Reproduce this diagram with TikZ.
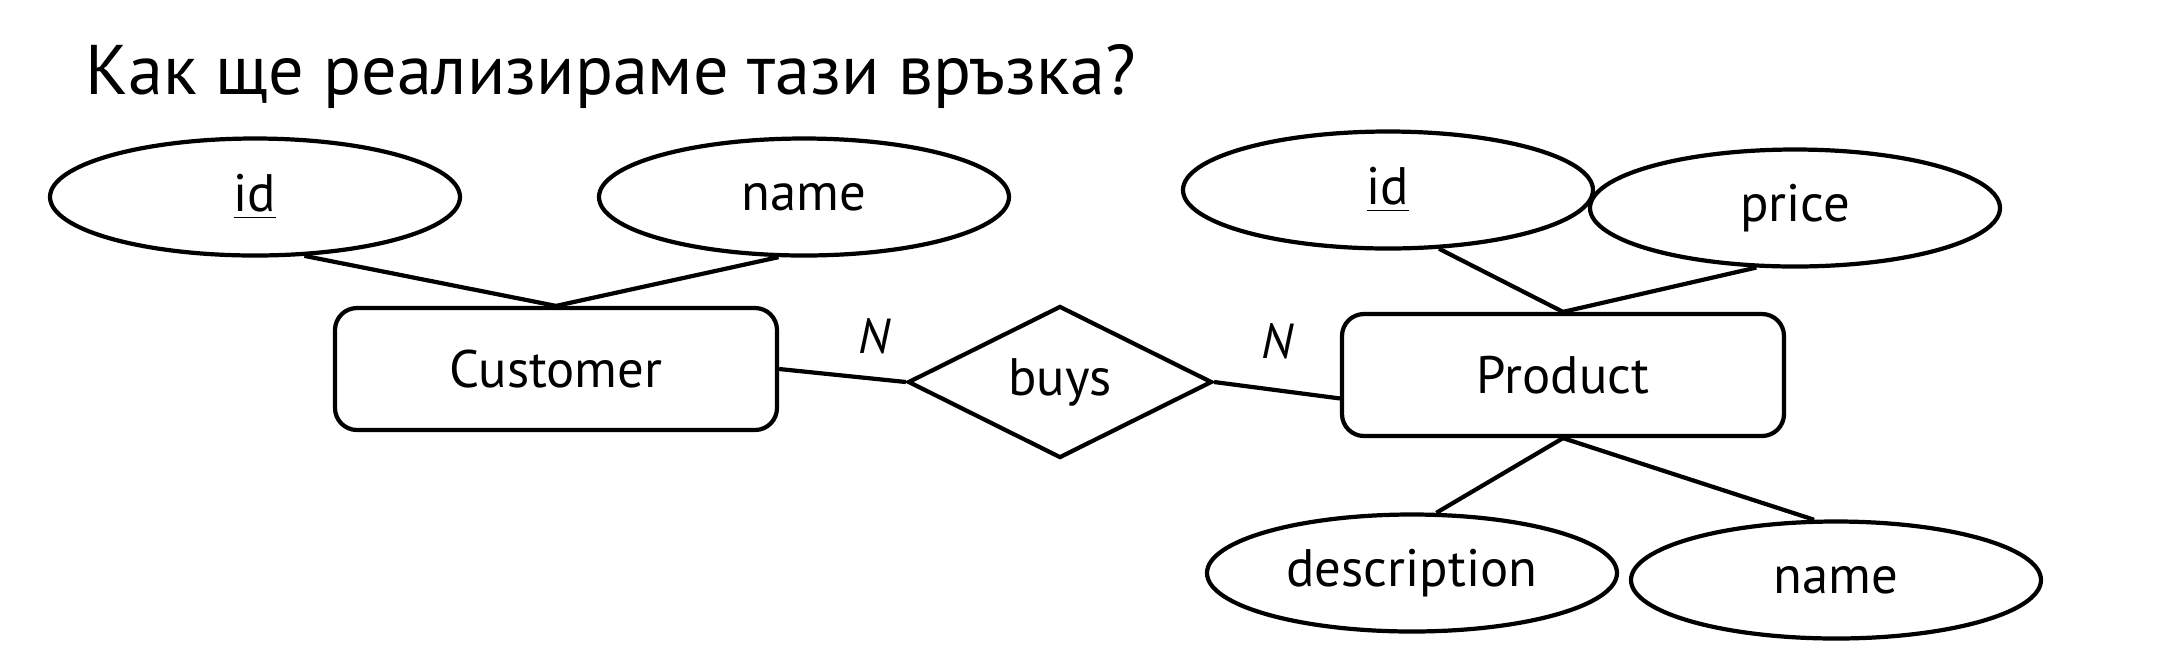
\documentclass[tikz,border=0pt]{standalone}
\usepackage{fontspec}
\setmainfont{PT Sans}
\usetikzlibrary{shapes.geometric, positioning}
\newcommand{\key}[1]{\underline{#1}}

\begin{document}
\begin{tikzpicture}[font=\fontsize{15}{18}\selectfont, line width=1.2pt,
  attr/.style={draw, ellipse, minimum width=4.1cm, minimum height=1.17cm, inner sep=0pt},
  entity/.style={draw, rounded corners=0.22cm, minimum width=4.42cm, minimum height=1.22cm},
  rel/.style={draw, diamond, aspect=2, minimum width=3.04cm, minimum height=1.52cm, inner sep=0pt},
  card/.style={font=\fontsize{14}{16}\selectfont\itshape}]
  \useasboundingbox (0,0) rectangle (21.64,-6.63);

  \node[anchor=base west, font=\fontsize{20}{24}\selectfont]
    (title) at (0.72,-0.94) {Как ще реализираме тази връзка?};

  % customer side
  \node[entity] (cust) at (5.56,-3.69) {Customer};
  \node[attr] (cid) at (2.55,-1.97) {\key{id}};
  \node[attr] (cname) at (8.04,-1.97) {name};

  % relationship
  \node[rel] (buys) at (10.60,-3.82) {buys};

  % product side
  \node[entity] (prod) at (15.63,-3.75) {Product};
  \node[attr] (pid) at (13.88,-1.90) {\key{id}};
  \node[attr] (price) at (17.95,-2.08) {price};
  \node[attr] (desc) at (14.12,-5.73) {description};
  \node[attr] (pname) at (18.36,-5.80) {name};

  \draw (cid.-50) -- (cust.north);
  \draw (cname.-113) -- (cust.north);
  \draw (cust.east) -- node[card, pos=.75, above=3pt]{N} (buys.west);
  \draw (buys.east) -- node[card, pos=.5, above=5pt]{N} (prod.-174);
  \draw (pid.-49) -- (prod.north);
  \draw (price.-123) -- (prod.north);
  \draw (prod.south) -- (desc.68);
  \draw (prod.south) -- (pname.110);
\end{tikzpicture}
\end{document}
